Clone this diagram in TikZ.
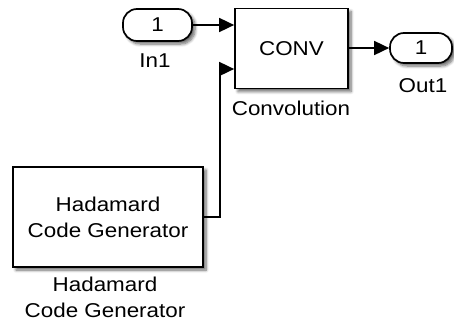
\documentclass[tikz,border=0pt]{standalone}
\usepackage{fontspec}
\setmainfont[FakeStretch=1.12]{Liberation Sans}
\usetikzlibrary{arrows.meta,shadows.blur}
\begin{document}
\begin{tikzpicture}[x=1pt,y=-1pt,
  font=\fontsize{20}{26}\selectfont,
  blk/.style={draw, line width=1.7pt, fill=white, inner sep=0pt, align=center,
    blur shadow={shadow xshift=3pt, shadow yshift=-3pt, shadow blur steps=6, shadow opacity=60, shadow blur radius=3pt}},
  port/.style={blk, rounded corners=14pt},
  wire/.style={line width=1.7pt, -{Triangle[length=15pt,width=14pt]}},
  lbl/.style={inner sep=0pt, align=center}]
\useasboundingbox (0,0) rectangle (454,324);
\node[blk, minimum width=113pt, minimum height=80pt] (conv) at (291.5,48.5) {CONV};
\node[blk, minimum width=190pt, minimum height=100pt] (had) at (108,217) {Hadamard\\Code Generator};
\node[port, minimum width=69pt, minimum height=32pt] (in1) at (157.5,25) {1};
\node[port, minimum width=62pt, minimum height=30pt] (out1) at (421,48) {1};
\node[lbl, anchor=base] (in1l) at (155,67) {In1};
\node[lbl, anchor=base] (convl) at (291,115) {Convolution};
\node[lbl, anchor=base] (out1l) at (423,92) {Out1};
\node[lbl, anchor=north] (hadl) at (105,277) {Hadamard\\Code Generator};
\coordinate (p2) at (220,69);
\draw[wire] (in1.east) -- (conv.west |- in1.east);
\draw[wire] (conv.east |- out1.west) -- (out1.west);
\draw[wire] (had.east) -| (p2) -- (conv.west |- p2);
\end{tikzpicture}
\end{document}
